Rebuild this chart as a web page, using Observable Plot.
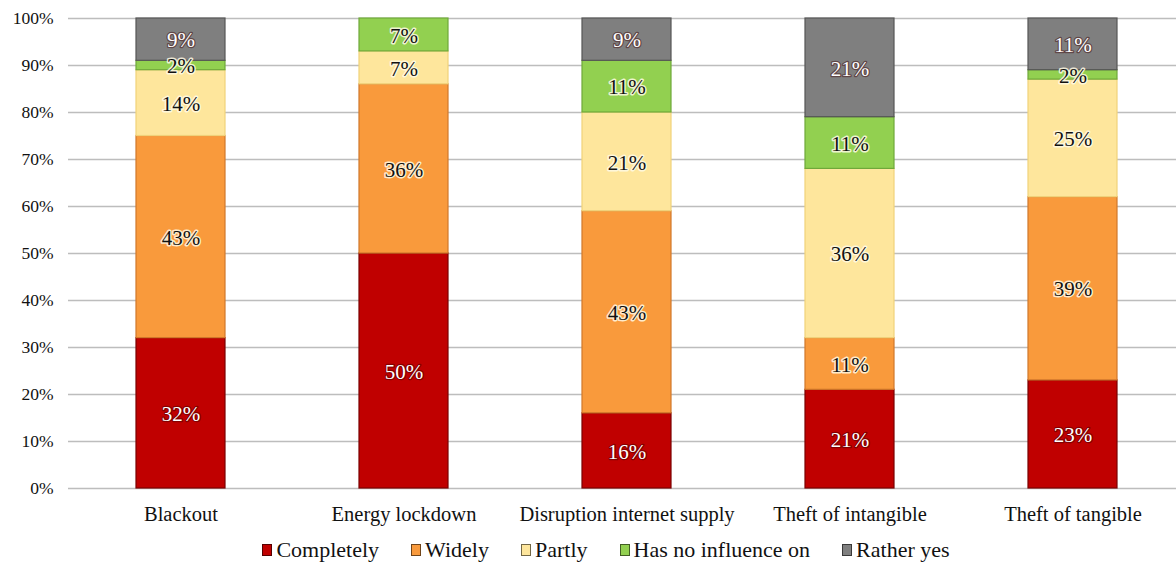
<!DOCTYPE html>
<html>
<head>
<meta charset="utf-8">
<script src="https://cdn.jsdelivr.net/npm/d3@7"></script>
<script src="https://cdn.jsdelivr.net/npm/@observablehq/plot@0.6"></script>
<style>
  html, body { margin: 0; padding: 0; background: #fff; }
  body { width: 1176px; height: 563px; overflow: hidden; }
  #chart svg { display: block; }
  #legend { position: relative; height: 33px; width: 1176px; }
  #legend .items { position: absolute; left: 0; width: 1212px; top: 7px; display: flex; justify-content: center; gap: 32px; font-size: 22px; color: #111; }
  #legend .item { display: flex; align-items: center; gap: 4px; }
  #legend .sw { width: 10px; height: 12px; border: 1px solid rgba(0,0,0,0.55); box-sizing: border-box; }
</style>
</head>
<body>
<div id="chart"></div>
<div id="legend"><div class="items"></div></div>
<script>
// Survey categories (bars) and answer series (stacked segments, bottom to top)
const categories = ["Blackout", "Energy lockdown", "Disruption internet supply", "Theft of intangible", "Theft of tangible"];
const series = ["Completely", "Widely", "Partly", "Has no influence on", "Rather yes"];

// Shares in percent, one value per category
const completely   = [32, 50, 16, 21, 23];
const widely       = [43, 36, 43, 11, 39];
const partly       = [14, 7, 21, 36, 25];
const noInfluence  = [2, 7, 11, 11, 2];
const ratherYes    = [9, 0, 9, 21, 11];

const yTicks = [0, 10, 20, 30, 40, 50, 60, 70, 80, 90, 100];

const colors = ["#C00000", "#F99A3C", "#FEE69C", "#92D050", "#7F7F7F"];
const edges  = ["#7a0000", "#d0782a", "#f0d27a", "#6fa83a", "#555555"];

const values = [completely, widely, partly, noInfluence, ratherYes];
const data = [];
categories.forEach((c, i) => {
  series.forEach((s, j) => data.push({category: c, series: s, value: values[j][i]}));
});

// White labels on the dark segments, black labels elsewhere
const lightText = new Set(["Completely", "Rather yes"]);
const darkLabel = d => (d.value > 0 && !lightText.has(d.series)) ? d.value + "%" : "";
const lightLabel = d => (d.value > 0 && lightText.has(d.series)) ? d.value + "%" : "";

const font = "Liberation Serif, Tinos, Times New Roman, serif";
document.body.style.fontFamily = font;

const chart = Plot.plot({
  width: 1176,
  height: 530,
  marginTop: 18,
  marginBottom: 42,
  marginLeft: 68,
  marginRight: 0,
  style: {fontFamily: font, fontSize: "17.5px", color: "#111", background: "#fff"},
  x: {domain: categories, range: [69, 1184], paddingInner: 0.6, paddingOuter: 0.3, label: null},
  y: {domain: [0, 100], ticks: yTicks, tickFormat: d => d + "%", label: null},
  color: {domain: series, range: colors},
  marks: [
    Plot.gridY(yTicks, {stroke: "#bdbdbd", strokeOpacity: 1, strokeWidth: 1.5}),
    Plot.axisY(yTicks, {tickSize: 0, tickPadding: 15, tickFormat: d => d + "%", fontSize: 17.5, fontFamily: font, label: null}),
    Plot.axisX({tickSize: 0, tickPadding: 18, fontSize: 20.5, fontFamily: font, label: null}),
    Plot.barY(data, Plot.stackY({
      x: "category", y: "value", fill: "series",
      stroke: d => edges[series.indexOf(d.series)], strokeWidth: 1.2
    })),
    Plot.text(data, Plot.stackY({
      x: "category", y: "value", z: "series",
      text: darkLabel, fontFamily: font,
      fill: "#111", stroke: "#fffbe6", strokeWidth: 3, strokeOpacity: 0.85,
      fontSize: 21, dy: 1
    })),
    Plot.text(data, Plot.stackY({
      x: "category", y: "value", z: "series",
      text: lightLabel, fontFamily: font,
      fill: "#fff", stroke: "#3a0000", strokeWidth: 2.5, strokeOpacity: 0.45,
      fontSize: 21, dy: 1
    }))
  ]
});

document.getElementById("chart").append(chart);

// Legend below the plot
const items = document.querySelector("#legend .items");
items.style.fontFamily = font;
series.forEach((s, i) => {
  const item = document.createElement("div");
  item.className = "item";
  const sw = document.createElement("span");
  sw.className = "sw";
  sw.style.background = colors[i];
  const label = document.createElement("span");
  label.textContent = s;
  label.style.fontFamily = font;
  item.append(sw, label);
  items.append(item);
});
</script>
</body>
</html>
